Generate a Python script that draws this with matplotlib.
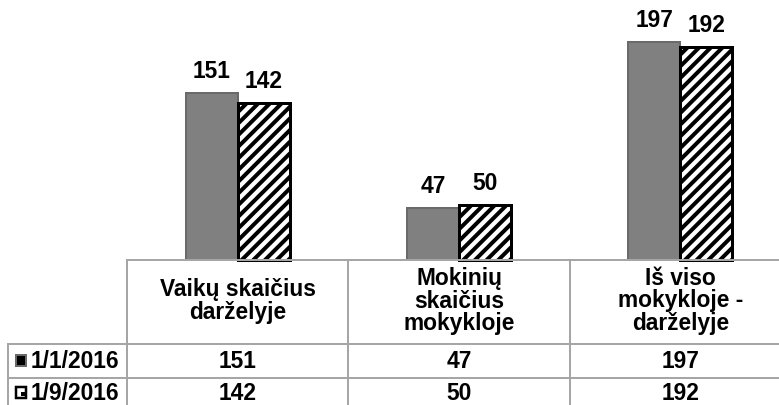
import matplotlib
matplotlib.use("Agg")
import matplotlib.pyplot as plt
from matplotlib.transforms import blended_transform_factory
from matplotlib.lines import Line2D
from matplotlib.patches import Rectangle

categories = ["Vaikų skaičius\ndarželyje", "Mokinių\nskaičius\nmokykloje", "Iš viso\nmokykloje -\ndarželyje"]
series_names = ["1/1/2016", "1/9/2016"]
values_jan = [151, 47, 197]
values_sep = [142, 50, 192]

W, H, DPI = 779, 405, 70
PT = 72.0 / DPI  # points per pixel

plt.rcParams['font.family'] = ['Liberation Sans', 'DejaVu Sans']
plt.rcParams['hatch.linewidth'] = 4.0 * PT

fig = plt.figure(figsize=(W / DPI, H / DPI), dpi=DPI)
fig.patch.set_facecolor('white')

base_px = 260.0
px_per_unit = 1.108
ymax = 250
left_px, right_px = 127.0, 791.0
ax = fig.add_axes([left_px / W, (H - base_px) / H, (right_px - left_px) / W, ymax * px_per_unit / H])
ax.set_xlim(-0.5, len(categories) - 0.5)
ax.set_ylim(0, ymax)
ax.axis('off')

bw = 0.235
x = list(range(len(categories)))
fs = 22.7 * PT
b1 = ax.bar([i - bw / 2 for i in x], values_jan, width=bw, color='#808080', edgecolor='#6a6a6a',
            linewidth=2 * PT, clip_on=False)
b2 = ax.bar([i + bw / 2 for i in x], values_sep, width=bw, color='white', edgecolor='black',
            hatch='//', linewidth=3 * PT, clip_on=False)
for bars, vals in ((b1, values_jan), (b2, values_sep)):
    for r, v in zip(bars, vals):
        ax.annotate(str(v), (r.get_x() + r.get_width() / 2, v), xytext=(0, 15 * PT),
                    textcoords='offset points', ha='center', va='baseline',
                    fontsize=fs, fontweight='bold', color='black')

# table
tr = blended_transform_factory(ax.transData, fig.transFigure)
def fy(ypx):
    return 1 - ypx / H

lc = '#a6a6a6'
lw = 2 * PT
def fline(x0, y0, x1, y1):
    fig.add_artist(Line2D([x0 / W, x1 / W], [fy(y0), fy(y1)], color=lc, lw=lw,
                          transform=fig.transFigure))

fline(left_px, base_px, W, base_px)
for yl in (344, 378):
    fline(8, yl, W, yl)
fline(8, 344, 8, H)
for xb in [i - 0.5 for i in range(len(categories))]:
    fig.add_artist(Line2D([xb, xb], [fy(base_px), 0], color=lc, lw=lw, transform=tr))

pitch = 22.5
for i, cat in enumerate(categories):
    lines = cat.split('\n')
    n = len(lines)
    c = 307.5
    for k, ln in enumerate(lines):
        yb = c - (n - 1) / 2 * pitch + k * pitch
        fig.text(i, fy(yb), ln, transform=tr, ha='center', va='baseline',
                 fontsize=fs, fontweight='bold', color='black')

row_base = [368.5, 400]
for r, (name, vals) in enumerate(zip(series_names, (values_jan, values_sep))):
    for i, v in enumerate(vals):
        fig.text(i, fy(row_base[r]), str(v), transform=tr, ha='center', va='baseline',
                 fontsize=fs, fontweight='bold', color='black')
    fig.text(31 / W, fy(row_base[r]), name, ha='left', va='baseline',
             fontsize=fs, fontweight='bold', color='black')

# legend keys
fig.add_artist(Rectangle((16 / W, fy(366)), 10 / W, 11 / H, facecolor='black',
                         edgecolor='#6a6a6a', lw=2 * PT, transform=fig.transFigure))
fig.add_artist(Rectangle((16 / W, fy(398)), 10 / W, 11 / H, facecolor='white',
                         edgecolor='black', lw=2.5 * PT, transform=fig.transFigure))
fig.add_artist(Rectangle((21 / W, fy(396)), 4 / W, 4 / H, facecolor='black',
                         edgecolor='none', transform=fig.transFigure))

fig.savefig('out.png', dpi=DPI, facecolor='white')
